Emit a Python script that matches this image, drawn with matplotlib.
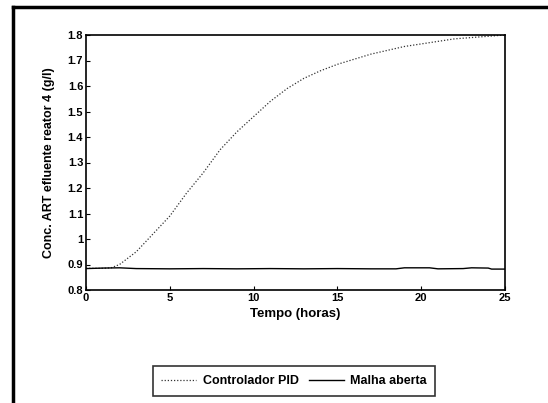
import matplotlib
matplotlib.use("Agg")
import matplotlib.pyplot as plt
from matplotlib.lines import Line2D

plt.rcParams['font.family'] = ['Liberation Sans', 'DejaVu Sans']

# Controlled response (PID) and open-loop response, reactor 4 effluent
t_pid = [0, 1, 1.5, 2, 3, 4, 5, 6, 7, 8, 9, 10, 11, 12, 13, 14, 15,
         16, 17, 18, 19, 20, 21, 22, 23, 24, 25]
c_pid = [0.885, 0.885, 0.887, 0.90, 0.95, 1.02, 1.09, 1.18, 1.26, 1.35,
         1.42, 1.48, 1.54, 1.59, 1.63, 1.66, 1.685, 1.705, 1.725, 1.74,
         1.755, 1.765, 1.775, 1.785, 1.79, 1.795, 1.80]

t_open = [0, 1, 2, 3, 5, 7, 9, 11, 13, 15, 17, 18.5, 19, 20.5, 21,
          22.5, 23, 24, 24.2, 25]
c_open = [0.884, 0.886, 0.887, 0.884, 0.883, 0.884, 0.883, 0.884, 0.883,
          0.884, 0.883, 0.883, 0.887, 0.887, 0.883, 0.884, 0.887, 0.886,
          0.882, 0.882]

x_ticks = [0, 5, 10, 15, 20, 25]
y_ticks = [0.8, 0.9, 1.0, 1.1, 1.2, 1.3, 1.4, 1.5, 1.6, 1.7, 1.8]
y_tick_labels = ['0.8', '0.9', '1', '1.1', '1.2', '1.3', '1.4', '1.5',
                 '1.6', '1.7', '1.8']

fig = plt.figure(figsize=(5.48, 4.03), dpi=100)
ax = fig.add_axes([86 / 548, 1 - 290 / 403, (505 - 86) / 548, (290 - 35) / 403])

l_pid, = ax.plot(t_pid, c_pid, linestyle=(0, (1, 1.5)), color='#333333',
                 linewidth=0.9, label='Controlador PID')
l_open, = ax.plot(t_open, c_open, linestyle='-', color='black',
                  linewidth=1.0, label='Malha aberta')

ax.set_xlim(0, 25)
ax.set_ylim(0.8, 1.8)
ax.set_xticks(x_ticks)
ax.set_yticks(y_ticks)
ax.set_yticklabels(y_tick_labels)
ax.tick_params(direction='in', length=3, width=0.8, labelsize=8, pad=2)
for lab in ax.get_xticklabels() + ax.get_yticklabels():
    lab.set_fontweight('bold')
for sp in ax.spines.values():
    sp.set_linewidth(1.2)

ax.set_xlabel('Tempo (horas)', fontsize=9.5, fontweight='bold', labelpad=4)
ax.set_ylabel('Conc. ART efluente reator 4 (g/l)', fontsize=9,
              fontweight='bold', labelpad=9)

leg = fig.legend(handles=[l_pid, l_open], loc='center',
                 bbox_to_anchor=(294 / 548, 1 - 381 / 403), ncol=2,
                 fontsize=9, frameon=True, fancybox=False,
                 edgecolor='black', handlelength=2.8, handletextpad=0.5,
                 columnspacing=0.8, borderpad=0.7)
leg.get_frame().set_linewidth(1.2)
for txt in leg.get_texts():
    txt.set_fontweight('bold')

# outer frame of the figure panel (left and top edges)
fig.add_artist(Line2D([13 / 548, 13 / 548], [0, 1 - 7 / 403],
                      transform=fig.transFigure, color='black', linewidth=2.5))
fig.add_artist(Line2D([13 / 548, 1], [1 - 7 / 403, 1 - 7 / 403],
                      transform=fig.transFigure, color='black', linewidth=2.5))

fig.savefig('out.png', dpi=100)
